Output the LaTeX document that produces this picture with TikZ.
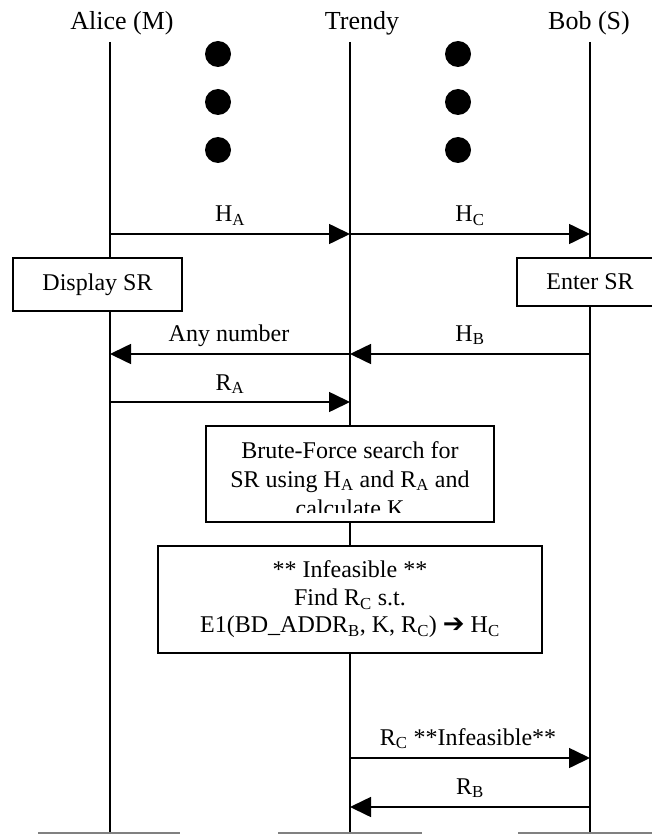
\documentclass[tikz,border=0pt]{standalone}
\usepackage{fontspec}
\setmainfont{Liberation Serif}
\newfontfamily\symfont{DejaVu Sans}
\usetikzlibrary{arrows.meta}

\begin{document}
\begin{tikzpicture}[x=1pt,y=-1pt,
  line/.style={line width=1.6pt},
  msg/.style={line width=1.6pt,-{Triangle[length=21pt,width=20pt]}},
  lbl/.style={font=\fontsize{24}{28}\selectfont,inner sep=0pt,anchor=base},
  party/.style={font=\fontsize{26}{30}\selectfont,inner sep=0pt,anchor=base},
  box/.style={draw,line width=1.6pt,fill=white,inner sep=0pt,font=\fontsize{24}{28}\selectfont}]
 \pgfmathsetmacro{\xA}{110}
 \pgfmathsetmacro{\xT}{350}
 \pgfmathsetmacro{\xB}{590}
 \useasboundingbox (0,0) rectangle (652,834);

  % parties and life lines
  \node[party] (alice) at (122,30) {Alice (M)};
  \node[party] (trendy) at (362,30) {Trendy};
  \node[party] (bob) at (589,30) {Bob (S)};
  \coordinate (A0) at (\xA,42); \coordinate (A1) at (\xA,833);
  \coordinate (T0) at (\xT,42); \coordinate (T1) at (\xT,833);
  \coordinate (B0) at (\xB,42); \coordinate (B1) at (\xB,833);
  \draw[line] (A0) -- (A1);
  \draw[line] (T0) -- (T1);
  \draw[line] (B0) -- (B1);

  \foreach \d in {54,102,150}{
   \fill (218,\d) circle (13);
   \fill (458,\d) circle (13);
  }

  % H_A and H_C
  \coordinate (ha1) at (\xA,234); \coordinate (ha2) at (\xT,234);
  \coordinate (hc2) at (\xB,234);
  \draw[msg] (ha1) -- (ha2);
  \draw[msg] (ha2) -- (hc2);
  \node[lbl] (haL) at (230,222) {H\textsubscript{A}};
  \node[lbl] (hcL) at (470,222) {H\textsubscript{C}};

  \node[box,minimum width=169,minimum height=53] (disp) at (97.5,284.5) {Display SR};
  \node[box,minimum width=146,minimum height=48] (enter) at (590,282) {Enter SR};

  % H_B and any number
  \coordinate (an1) at (\xA,354); \coordinate (an2) at (\xT,354);
  \coordinate (hb2) at (\xB,354);
  \draw[msg] (hb2) -- (an2);
  \draw[msg] (an2) -- (an1);
  \node[lbl] (anL) at (229,341) {Any number};
  \node[lbl] (hbL) at (470,341) {H\textsubscript{B}};

  % R_A
  \coordinate (ra1) at (\xA,402); \coordinate (ra2) at (\xT,402);
  \draw[msg] (ra1) -- (ra2);
  \node[lbl] (raL) at (230,390) {R\textsubscript{A}};

  % Trendy's work
  \node[box,minimum width=288,minimum height=96] (brute) at (350,474) {};
  \begin{scope}
   \clip (207,427) rectangle (493,512);
   \node[align=center,anchor=north,inner sep=0pt,font=\fontsize{24}{29}\selectfont] (bruteT) at (350,441)
     {Brute-Force search for\\SR using H\textsubscript{A} and R\textsubscript{A} and\\calculate K};
  \end{scope}
  \node[box,minimum width=384,minimum height=107,align=center,font=\fontsize{24}{27.5}\selectfont] (infeas) at (350,599.5)
   {** Infeasible **\\Find R\textsubscript{C} s.t.\\E1(BD\_ADDR\textsubscript{B}, K, R\textsubscript{C}) {\symfont\fontsize{26}{26}\selectfont ➔} H\textsubscript{C}};

  % R_C and R_B
  \coordinate (rc1) at (\xT,758); \coordinate (rc2) at (\xB,758);
  \coordinate (rb1) at (\xT,807); \coordinate (rb2) at (\xB,807);
  \draw[msg] (rc1) -- (rc2);
  \draw[msg] (rb2) -- (rb1);
  \node[lbl] (rcL) at (468,745) {R\textsubscript{C} **Infeasible**};
  \node[lbl] (rbL) at (470,794) {R\textsubscript{B}};

  % ground lines
  \draw[gray,line width=1.4pt] (38,833) -- (180,833);
  \draw[gray,line width=1.4pt] (278,833) -- (422,833);
  \draw[gray,line width=1.4pt] (518,833) -- (652,833);

\end{tikzpicture}
\end{document}
